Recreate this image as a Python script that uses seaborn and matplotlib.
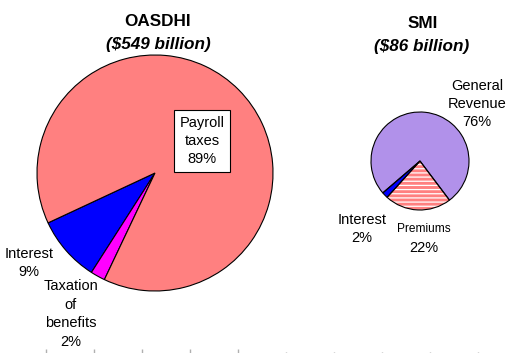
import matplotlib.pyplot as plt
import seaborn as sns

sns.set_style('white')
plt.rcParams['font.family'] = ['Liberation Sans', 'DejaVu Sans']
plt.rcParams['text.color'] = 'black'
plt.rcParams['hatch.linewidth'] = 0.9

# OASDHI income ($549 billion)
oasdhi_labels = ['Interest', 'Taxation of benefits', 'Payroll taxes']
oasdhi_values = [9, 2, 89]
oasdhi_colors = ['#0000FF', '#FF00FF', '#FF8080']

# SMI income ($86 billion)
smi_labels = ['Interest', 'Premiums', 'General Revenue']
smi_values = [2, 22, 76]
smi_colors = ['#0000FF', '#FF8080', '#B191EA']
smi_hatch = ['', '----', '']

W, H = 510, 353
fig = plt.figure(figsize=(5.10, 3.53), dpi=100)
ax = fig.add_axes([0, 0, 1, 1])

def Y(y):
    return H - y

# big pie
ax.pie(oasdhi_values, colors=oasdhi_colors, startangle=205, counterclock=True,
       center=(155, Y(173)), radius=118,
       wedgeprops=dict(edgecolor='black', linewidth=0.8))

# small pie: fill + white stripes first, then black outlines on top
ax.pie(smi_values, colors=smi_colors, startangle=220.6, counterclock=True,
       center=(420, Y(161)), radius=49, hatch=smi_hatch,
       wedgeprops=dict(edgecolor='white', linewidth=0))
ax.pie(smi_values, colors=['none'] * 3, startangle=220.6, counterclock=True,
       center=(420, Y(161)), radius=49,
       wedgeprops=dict(edgecolor='black', linewidth=0.8, facecolor='none'))

ax.set_xlim(0, W)
ax.set_ylim(0, H)
ax.set_aspect('equal')
ax.axis('off')

# titles
ax.text(158, Y(21), 'OASDHI', ha='center', va='center', fontsize=12.3, fontweight='bold')
ax.text(158, Y(45), '($549 billion)', ha='center', va='center', fontsize=12.3,
        fontweight='bold', style='italic')
ax.text(423, Y(23), 'SMI', ha='center', va='center', fontsize=12.3, fontweight='bold')
ax.text(422, Y(47), '($86 billion)', ha='center', va='center', fontsize=12.3,
        fontweight='bold', style='italic')

lab = dict(ha='center', va='center', fontsize=10.5, linespacing=1.4)
ax.text(202, Y(141), 'Payroll\ntaxes\n89%', **lab,
        bbox=dict(boxstyle='square,pad=0.4', facecolor='white', edgecolor='black', linewidth=0.8))
ax.text(29, Y(263), 'Interest\n9%', **lab)
ax.text(71, Y(314), 'Taxation\nof\nbenefits\n2%', **lab)
ax.text(477, Y(104), 'General\nRevenue\n76%', **lab)
ax.text(362, Y(229), 'Interest\n2%', **lab)
ax.text(424, Y(229), 'Premiums', ha='center', va='center', fontsize=8.6)
ax.text(424, Y(248), '22%', ha='center', va='center', fontsize=10.5)

# faint tick marks along the bottom edge
long_ticks = [46, 94, 142, 190, 238]
dot_ticks = [286, 334, 382, 430, 478]
ax.vlines(long_ticks, Y(353), Y(349), color='#b0b0b0', linewidth=1)
ax.vlines(dot_ticks, Y(353), Y(351.5), color='#b0b0b0', linewidth=1)

fig.savefig('out.png', dpi=100)
